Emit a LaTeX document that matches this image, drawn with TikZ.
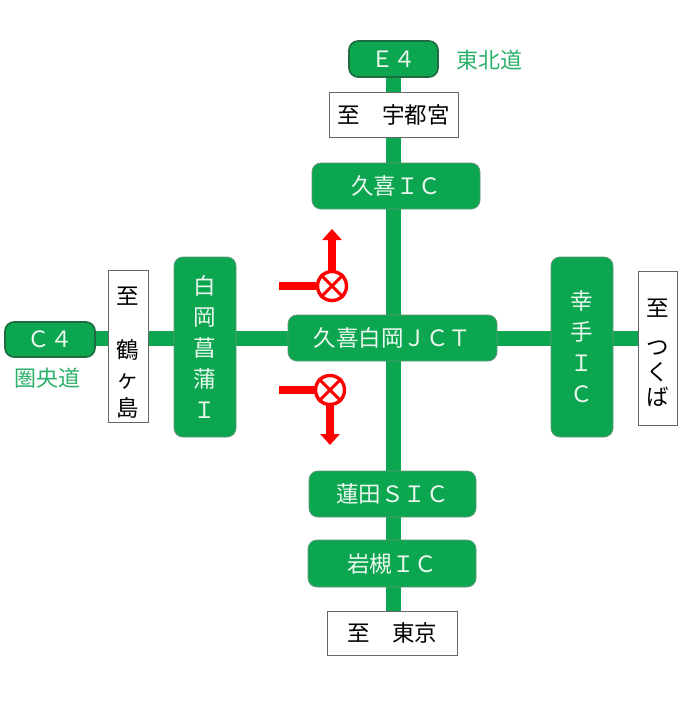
\documentclass[tikz,border=0pt]{standalone}
\usepackage{fontspec}
\setmainfont{Noto Sans CJK JP}
\usetikzlibrary{arrows.meta,backgrounds}
\definecolor{rg}{HTML}{0BA64F}
\definecolor{rgd}{HTML}{1D6B3E}
\definecolor{lab}{HTML}{2DB06A}
\definecolor{rd}{HTML}{FF0000}
\definecolor{tw}{HTML}{EAF8EF}
\tikzset{
  x=1pt,y=-1pt,
  sign/.style={draw=rgd!70,line width=0.8pt,fill=rg,text=tw,rounded corners=9pt,inner sep=0pt,font=\fontsize{22.5}{31}\selectfont,align=center},
  shield/.style={sign,draw=rgd,line width=1.6pt},
  dest/.style={draw=black!60,line width=0.8pt,fill=white,text=black,inner sep=0pt,font=\fontsize{22.5}{29}\selectfont,align=center},
  road/.style={draw=rg,line width=15pt},
  redline/.style={draw=rd,line width=8.5pt},
  redarrow/.style={draw=rd,line width=8.5pt,-{Triangle[length=11pt,width=19pt]}},
  ring/.style={circle,draw=rd,line width=3.4pt,minimum size=29pt,inner sep=0pt,fill=white},
  cross/.style={draw=rd,line width=3pt},
  roadname/.style={text=lab,inner sep=0pt,font=\fontsize{22}{22}\selectfont},
}
\newcommand{\bx}[5][sign]{\node[#1,minimum width=#4pt,minimum height=#5pt] (#2) at #3}
\begin{document}
\begin{tikzpicture}
\useasboundingbox (0,0) rectangle (700,702);
\bx[shield]{e4}{(393.5,59)}{89}{36} {Ｅ４};
\node[roadname] (tohoku) at (489,60) {東北道};
\bx[dest]{utsu}{(393.5,114.5)}{129}{45} {至　宇都宮};
\bx{kuki}{(396,186)}{168}{46} {久喜ＩＣ};
\bx{jct}{(392.5,338)}{209}{46} {久喜白岡ＪＣＴ};
\bx{hasu}{(392.5,494)}{167}{46} {蓮田ＳＩＣ};
\bx{iwa}{(392,563.5)}{168}{47} {岩槻ＩＣ};
\bx[dest]{tokyo}{(392,633)}{130}{44} {至　東京};
\bx[shield]{c4}{(50,339.5)}{90}{35} {Ｃ４};
\node[roadname] (kenou) at (48,378) {圏央道};
\bx[dest]{tsuru}{(128,346)}{40}{152} {\rule{0pt}{30pt}至\\[25pt]鶴\\ヶ\\島};
\bx{shira}{(205,347)}{62}{180} {白\\岡\\菖\\蒲\\Ｉ};
\bx{satte}{(582,347)}{62}{180} {幸\\手\\Ｉ\\Ｃ};
\bx[dest]{tsuku}{(657.5,348)}{39}{154} {\rule{0pt}{28pt}至\\[10pt]つ\\[-4pt]く\\[-4pt]ば};
\coordinate (vtop) at (393,77);
\coordinate (vbot) at (393,611);
\coordinate (hl) at (95,338);
\coordinate (hr) at (638,338);
\begin{scope}[on background layer]
  \draw[road] (vtop) -- (vbot);
  \draw[road] (hl) -- (hr);
\end{scope}
\node[ring] (x1) at (332,286) {};
\draw[cross] (x1.45) -- (x1.225) (x1.135) -- (x1.315);
\node[ring] (x2) at (330,390) {};
\draw[cross] (x2.45) -- (x2.225) (x2.135) -- (x2.315);
\coordinate (a1s) at (279,286);
\coordinate (a2s) at (279,390);
\coordinate (a1e) at (332,229);
\coordinate (a2e) at (330,445);
\draw[redline] (a1s) -- (x1.west);
\draw[redline] (a2s) -- (x2.west);
\draw[redarrow] (x1.north) -- (a1e);
\draw[redarrow] (x2.south) -- (a2e);
\end{tikzpicture}
\end{document}
